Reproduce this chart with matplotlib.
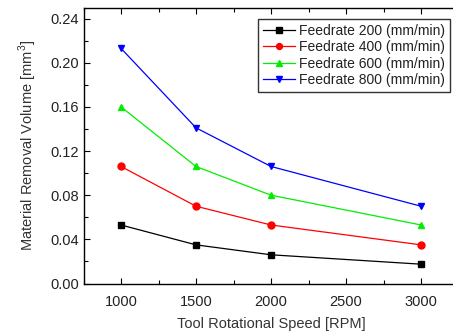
import matplotlib
matplotlib.use("Agg")
import matplotlib.pyplot as plt
from matplotlib.ticker import MultipleLocator

plt.rcParams['font.family'] = ['Liberation Sans', 'DejaVu Sans']
plt.rcParams['mathtext.fontset'] = 'custom'
plt.rcParams['mathtext.rm'] = 'Liberation Sans'

speed = [1000, 1500, 2000, 3000]
feed200 = [0.053, 0.035, 0.026, 0.0175]
feed400 = [0.106, 0.070, 0.053, 0.035]
feed600 = [0.160, 0.106, 0.080, 0.053]
feed800 = [0.213, 0.141, 0.106, 0.070]
labels = ['Feedrate 200 (mm/min)', 'Feedrate 400 (mm/min)',
          'Feedrate 600 (mm/min)', 'Feedrate 800 (mm/min)']
xticks = [1000, 1500, 2000, 2500, 3000]
yticks = [0.00, 0.04, 0.08, 0.12, 0.16, 0.20, 0.24]

W, H = 453, 333
fig = plt.figure(figsize=(W/100, H/100), dpi=100)
ax = fig.add_axes([83.5/W, (H-283.5)/H, 375/W, 276/H])

series = [feed200, feed400, feed600, feed800]
colors = ['#000000', '#ff0000', '#00ee00', '#0000ff']
markers = ['s', 'o', '^', 'v']
for vals, c, m, lab in zip(series, colors, markers, labels):
    ax.plot(speed, vals, color=c, marker=m, markersize=5, linewidth=0.9,
            markeredgecolor=c, markerfacecolor=c, label=lab)

ax.set_xlim(750, 3250)
ax.set_ylim(0, 0.25)
ax.set_xticks(xticks)
ax.set_yticks(yticks)
ax.set_yticklabels([f'{v:.2f}' for v in yticks])
ax.xaxis.set_minor_locator(MultipleLocator(250))
ax.yaxis.set_minor_locator(MultipleLocator(0.02))
ax.tick_params(which='both', direction='in', top=True, right=False,
               labelsize=10.5, width=0.8, labelcolor='#222222')
ax.tick_params(which='major', length=4)
ax.tick_params(which='minor', length=3)
ax.tick_params(axis='x', pad=8)
for s in ax.spines.values():
    s.set_linewidth(1.0)

ax.set_xlabel('Tool Rotational Speed [RPM]', fontsize=10.5, color='#333333', labelpad=6)
ax.set_ylabel('Material Removal Volume [mm$^3$]', fontsize=10.5, color='#333333', labelpad=8)

leg = ax.legend(loc='upper left', bbox_to_anchor=((258 - 83.5)/375, (283.5-18.7)/276),
                fontsize=10, frameon=True, fancybox=False, edgecolor='black',
                handlelength=2.3, handletextpad=0.3, borderpad=0.35, labelspacing=0.18,
                borderaxespad=0, markerscale=0.85)
leg.get_frame().set_linewidth(1.0)
for t in leg.get_texts():
    t.set_color('#222222')

fig.savefig('out.png', dpi=100)
